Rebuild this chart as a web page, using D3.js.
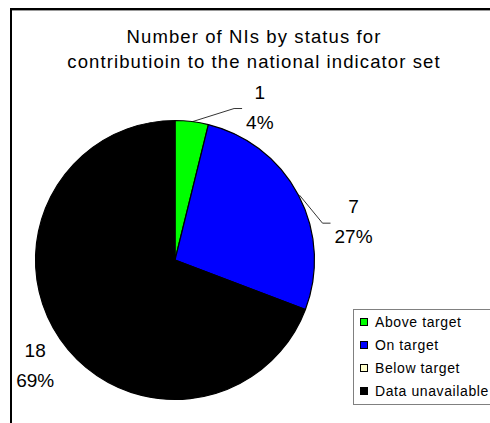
<!DOCTYPE html>
<html>
<head>
<meta charset="utf-8">
<script src="https://cdn.jsdelivr.net/npm/d3@7"></script>
<style>
  body { margin: 0; background: #fff; overflow: hidden; }
  svg { display: block; font-family: Arial, "Liberation Sans", sans-serif; }
</style>
</head>
<body>
<div id="chart"></div>
<script>
// data
var categories = ['Above target', 'On target', 'Below target', 'Data unavailable'];
var counts = [1, 7, 0, 18];
var colors = ['#00ff00', '#0000ff', '#ffffcc', '#000000'];
var titleLines = ['Number of NIs by status for', 'contributioin to the national indicator set'];

// label placement relative to the arc midpoint (layout only)
var labelOffsets = [
  { dx: 68, dy: -23, leader: true },
  { dx: 55, dy: 18, leader: true },
  null,
  { dx: -25, dy: 18, leader: false }
];

var width = 490, height = 423;
var cx = 175, cy = 260, r = 139.5;

var svg = d3.select('#chart').append('svg')
  .attr('width', width)
  .attr('height', height);

// outer chart border: only top and left edges are inside the picture
svg.append('path')
  .attr('d', 'M11,' + height + 'V9H' + width)
  .attr('fill', 'none')
  .attr('stroke', '#000')
  .attr('stroke-width', 2);
svg.append('line')
  .attr('x1', 12).attr('x2', width)
  .attr('y1', 10.5).attr('y2', 10.5)
  .attr('stroke', '#999').attr('stroke-width', 1);

// title
svg.append('g').selectAll('text').data(titleLines)
  .enter().append('text')
  .attr('x', 254)
  .attr('y', function(d, i) { return 43 + i * 25; })
  .attr('text-anchor', 'middle')
  .attr('font-size', 18.5)
  .attr('letter-spacing', 1.1)
  .attr('fill', '#000')
  .text(function(d) { return d; });

var total = d3.sum(counts);
var slices = categories.map(function(c, i) {
  return { name: c, value: counts[i], color: colors[i], idx: i };
});

var pie = d3.pie().sort(null).value(function(d) { return d.value; });
var arc = d3.arc().innerRadius(0).outerRadius(r);
var arcs = pie(slices);

var pieLayer = svg.append('g').attr('transform', 'translate(' + cx + ',' + cy + ')');

pieLayer.selectAll('path.slice').data(arcs.filter(function(d) { return d.value > 0; }))
  .enter().append('path')
  .attr('class', 'slice')
  .attr('d', arc)
  .attr('fill', function(d) { return d.data.color; })
  .attr('stroke', '#000')
  .attr('stroke-width', 1.2)
  .attr('stroke-linejoin', 'round');

// data labels
var labelLayer = svg.append('g');
arcs.forEach(function(d) {
  var off = labelOffsets[d.data.idx];
  if (!off || d.value === 0) return;
  var mid = (d.startAngle + d.endAngle) / 2;
  var px = cx + r * Math.sin(mid);
  var py = cy - r * Math.cos(mid);
  var lx = px + off.dx;
  var ly = py + off.dy;
  var pct = Math.round(d.value / total * 100) + '%';
  var g = labelLayer.append('g');
  g.selectAll('text').data([String(d.value), pct])
    .enter().append('text')
    .attr('x', lx)
    .attr('y', function(t, i) { return ly + i * 30; })
    .attr('text-anchor', 'middle')
    .attr('font-size', 19)
    .attr('fill', '#000')
    .text(function(t) { return t; });
  if (off.leader) {
    var left = d3.min(g.selectAll('text').nodes(), function(n) { return n.getBBox().x; });
    var ex = left - 4, ey = ly + 10;
    labelLayer.append('polyline')
      .attr('points', [[px + 1, py], [ex - 8, ey], [ex, ey]].map(function(p) { return p.join(','); }).join(' '))
      .attr('fill', 'none')
      .attr('stroke', '#000')
      .attr('stroke-width', 0.8);
  }
});

// legend
var legend = svg.append('g');
legend.append('rect')
  .attr('x', 353.5).attr('y', 309.5)
  .attr('width', 200).attr('height', 95)
  .attr('fill', '#fff')
  .attr('stroke', '#808080')
  .attr('stroke-width', 1);

var rowY = d3.scalePoint().domain(categories).range([322, 391]);

var items = legend.selectAll('g.item').data(slices)
  .enter().append('g').attr('class', 'item');
items.append('rect')
  .attr('x', 360.5)
  .attr('y', function(d) { return rowY(d.name) - 3.5; })
  .attr('width', 7).attr('height', 7)
  .attr('fill', function(d) { return d.color; })
  .attr('stroke', '#000')
  .attr('stroke-width', 1);
items.append('text')
  .attr('x', 375)
  .attr('y', function(d) { return rowY(d.name) + 5; })
  .attr('font-size', 14)
  .attr('letter-spacing', 0.6)
  .attr('fill', '#000')
  .text(function(d) { return d.name; });
</script>
</body>
</html>
